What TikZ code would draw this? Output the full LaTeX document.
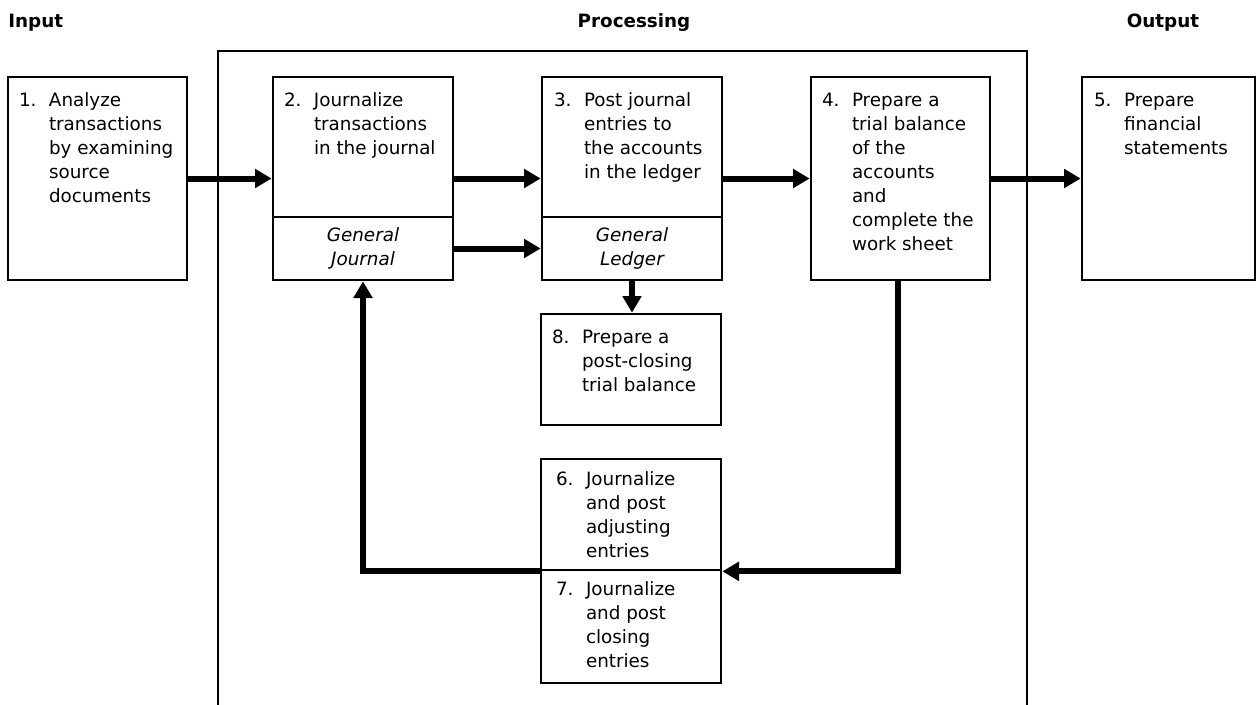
\documentclass[tikz,border=0pt]{standalone}
\usepackage{fontspec}
\setmainfont{DejaVu Sans}
\usetikzlibrary{positioning, arrows.meta}
\newcommand{\stepno}[2]{\makebox[18pt][l]{#1}\begin{tabular}[t]{@{}l@{}}#2\end{tabular}}

\tikzset{
  stepbox/.style={draw, line width=1.6pt, inner sep=0pt},
  steptext/.style={anchor=base west, inner sep=0pt, font=\fontsize{11}{14.4}\selectfont},
  bookbox/.style={stepbox, align=center, font=\fontsize{11}{14.4}\selectfont\itshape},
  heading/.style={anchor=base, inner sep=0pt, font=\fontsize{11}{14.4}\selectfont\bfseries},
  flow/.style={line width=3.6pt, -{Triangle[length=10pt,width=11pt]}}
}

\begin{document}
\begin{tikzpicture}[x={(0.6pt,0)}, y={(0,-0.6pt)}]
    \useasboundingbox (0,0) rectangle (1257,704);

    % column headings
    \node[heading, anchor=base west] (hin) at (8,27) {Input};
    \node[heading] (hproc) at (634,27) {Processing};
    \node[heading] (hout) at (1163,27) {Output};

    % processing frame (runs off the bottom)
    \node[stepbox, minimum width=485.4pt, minimum height=401.4pt] (proc) at (622.5,385.5) {};

    % boxes
    \node[stepbox, minimum width=107.4pt, minimum height=121.8pt] (s1) at (97.5,178.5) {};
    \node[stepbox, minimum width=108pt, minimum height=121.8pt] (s2) at (363,178.5) {};
    \node[stepbox, minimum width=108pt, minimum height=121.8pt] (s3) at (632,178.5) {};
    \node[stepbox, minimum width=107.4pt, minimum height=121.8pt] (s4) at (900.5,178.5) {};
    \node[stepbox, minimum width=103.8pt, minimum height=121.8pt] (s5) at (1168.5,178.5) {};
    \node[bookbox, minimum width=108pt, minimum height=37.8pt] (s2b) at (363,248.5) {General\\Journal};
    \node[bookbox, minimum width=108pt, minimum height=37.8pt] (s3b) at (632,248.5) {General\\Ledger};
    \node[stepbox, minimum width=108pt, minimum height=66.6pt] (s8) at (631,369.5) {};
    \node[stepbox, minimum width=108pt, minimum height=66.6pt] (s6) at (631,514.5) {};
    \node[stepbox, minimum width=108pt, minimum height=67.8pt] (s7) at (631,626.5) {};

    % box texts
    \node[steptext] (t1) at ([xshift=7.2pt,yshift=-18.6pt]s1.north west) {\stepno{1.}{Analyze\\transactions\\by examining\\source\\documents}};
    \node[steptext] (t2) at ([xshift=7.2pt,yshift=-18.6pt]s2.north west) {\stepno{2.}{Journalize\\transactions\\in the journal}};
    \node[steptext] (t3) at ([xshift=7.8pt,yshift=-18.6pt]s3.north west) {\stepno{3.}{Post journal\\entries to\\the accounts\\in the ledger}};
    \node[steptext] (t4) at ([xshift=7.2pt,yshift=-18.6pt]s4.north west) {\stepno{4.}{Prepare a\\trial balance\\of the\\accounts\\and\\complete the\\work sheet}};
    \node[steptext] (t5) at ([xshift=7.8pt,yshift=-18.6pt]s5.north west) {\stepno{5.}{Prepare\\financial\\statements}};
    \node[steptext] (t8) at ([xshift=7.2pt,yshift=-18.6pt]s8.north west) {\stepno{8.}{Prepare a\\post-closing\\trial balance}};
    \node[steptext] (t6) at ([xshift=9.6pt,yshift=-16.8pt]s6.north west) {\stepno{6.}{Journalize\\and post\\adjusting\\entries}};
    \node[steptext] (t7) at ([xshift=9.6pt,yshift=-16.2pt]s7.north west) {\stepno{7.}{Journalize\\and post\\closing\\entries}};

    % flow arrows
    \draw[flow] (s1.east) -- (s2.west);
    \draw[flow] (s2.east) -- (s3.west);
    \draw[flow] (s3.east) -- (s4.west);
    \draw[flow] (s4.east) -- (s5.west);
    \draw[flow] (s2b.east) -- (s3b.west);
    \draw[flow] (s3b.south) -- (s3b.south |- s8.north);
    \draw[flow] ([xshift=-1.5pt]s4.south) |- (s6.south east);
    \draw[flow] (s6.south west) -| (s2b.south);
\end{tikzpicture}
\end{document}
